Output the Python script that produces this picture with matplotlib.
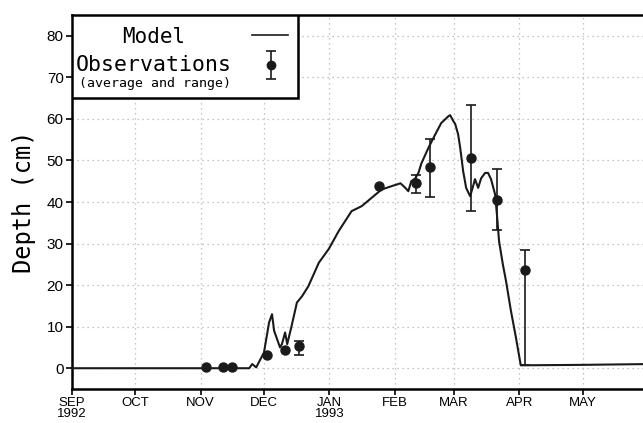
import numpy as np
import matplotlib.pyplot as plt
from matplotlib.patches import Rectangle

# days since 1 Sep 1992
model_day = [0, 84, 85.4, 87.3, 91, 93.4, 94.8, 95.8, 97.2, 98.6, 99.5, 101, 102,
             104, 106.6, 109, 112, 117, 121.7, 126.4, 132.5, 137.3, 142, 146.7,
             151.4, 155.7, 158, 159.4, 160.8, 162.7, 164.2, 165.6, 168.9, 172.2,
             175, 178.3, 179.2, 180.7, 181.6, 183, 184, 185.4, 186.8, 188.7, 190.1,
             191, 192.5, 193.9, 195.8, 197.2, 198.6, 200.5, 201.4, 202.4, 204.2,
             205.7, 208, 210.4, 212.7, 240, 273]
model_depth = [0, 0, 1, 0.2, 3.8, 11, 13, 9, 7, 5, 5.8, 8.6, 5.8,
               10, 15.8, 17.3, 19.7, 25.4, 28.7, 33, 37.8, 39, 41, 43,
               43.8, 44.5, 43.4, 42.6, 45, 45.7, 47, 49.3, 53, 56.3,
               59, 60.6, 60.9, 59.5, 58.8, 56.3, 53, 47.4, 43.4, 41.4, 43.8,
               45.5, 43.4, 45.7, 47, 47, 45.5, 41.9, 37, 30.6, 25,
               21, 13.9, 7.4, 0.7, 0.8, 1.0]

obs_day = [63.7, 71.7, 76, 92.5, 101, 107.5, 145.3, 163.2, 169.8, 189.2, 201.4, 214.6]
obs_mean = [0.2, 0.2, 0.2, 3.3, 4.4, 5.3, 43.8, 44.5, 48.4, 50.5, 40.6, 23.6]
obs_low = [0.2, 0.2, 0.2, 3.3, 4.4, 3.2, 43.8, 42.2, 41.2, 37.9, 33.3, 0.8]
obs_high = [0.2, 0.2, 0.2, 3.3, 4.4, 6.5, 43.8, 46.5, 55.2, 63.3, 48.0, 28.5]

month_day = [0, 30, 61, 91, 122, 153, 181, 212, 242]
month_lab = ["SEP\n1992", "OCT", "NOV", "DEC", "JAN\n1993", "FEB", "MAR", "APR", "MAY"]

W, H = 643, 423
fig = plt.figure(figsize=(W / 100, H / 100), dpi=100)
ax = fig.add_axes([72 / W, (H - 389) / H, 576 / W, 374 / H])

ax.plot(model_day, model_depth, color="#1a1a1a", lw=1.5, zorder=3)

d = np.array(obs_day)
m = np.array(obs_mean)
lo = np.array(obs_low)
hi = np.array(obs_high)
rng = hi > lo
ax.errorbar(d[rng], m[rng], yerr=[m[rng] - lo[rng], hi[rng] - m[rng]], fmt="none",
            ecolor="#1a1a1a", elinewidth=1.2, capsize=3.5, capthick=1.2, zorder=4)
ax.plot(d, m, "o", color="#1a1a1a", ms=6.5, zorder=5)

ax.set_xlim(0, 273)
ax.set_ylim(-5, 85)
ax.set_yticks(range(0, 81, 10))
ax.set_xticks(month_day)
ax.set_xticklabels(month_lab, fontfamily="Liberation Sans", fontsize=9.5,
                   linespacing=0.85)
for t in ax.get_yticklabels():
    t.set_fontfamily("Liberation Sans")
    t.set_fontsize(11)
ax.tick_params(axis="both", direction="out", length=4, width=1.2, pad=2)
ax.grid(True, color="0.7", ls=(0, (1, 3)), lw=0.9)
for s in ax.spines.values():
    s.set_linewidth(1.8)

ax.set_ylabel("Depth (cm)", fontfamily="DejaVu Sans Mono", fontsize=17, labelpad=8)

# legend box
ax.add_patch(Rectangle((0, 0.778), 0.392, 0.222, transform=ax.transAxes,
                       facecolor="white", edgecolor="black", lw=1.8, zorder=6))
ax.text(0.141, 0.941, "Model", transform=ax.transAxes, ha="center", va="center",
        fontfamily="DejaVu Sans Mono", fontsize=15, zorder=7)
ax.plot([0.3125, 0.375], [0.947, 0.947], transform=ax.transAxes, color="#1a1a1a",
        lw=1.2, zorder=7)
ax.text(0.006, 0.866, "Observations", transform=ax.transAxes, ha="left", va="center",
        fontfamily="DejaVu Sans Mono", fontsize=15.5, zorder=7)
ax.text(0.013, 0.816, "(average and range)", transform=ax.transAxes, ha="left",
        va="center", fontfamily="DejaVu Sans Mono", fontsize=9.5, zorder=7)
ax.errorbar([0.345], [0.866], yerr=[[0.037], [0.037]], fmt="o", color="#1a1a1a",
            ms=6, elinewidth=1.2, capsize=3.5, capthick=1.2, transform=ax.transAxes,
            zorder=8)

fig.savefig("out.png", dpi=100)
